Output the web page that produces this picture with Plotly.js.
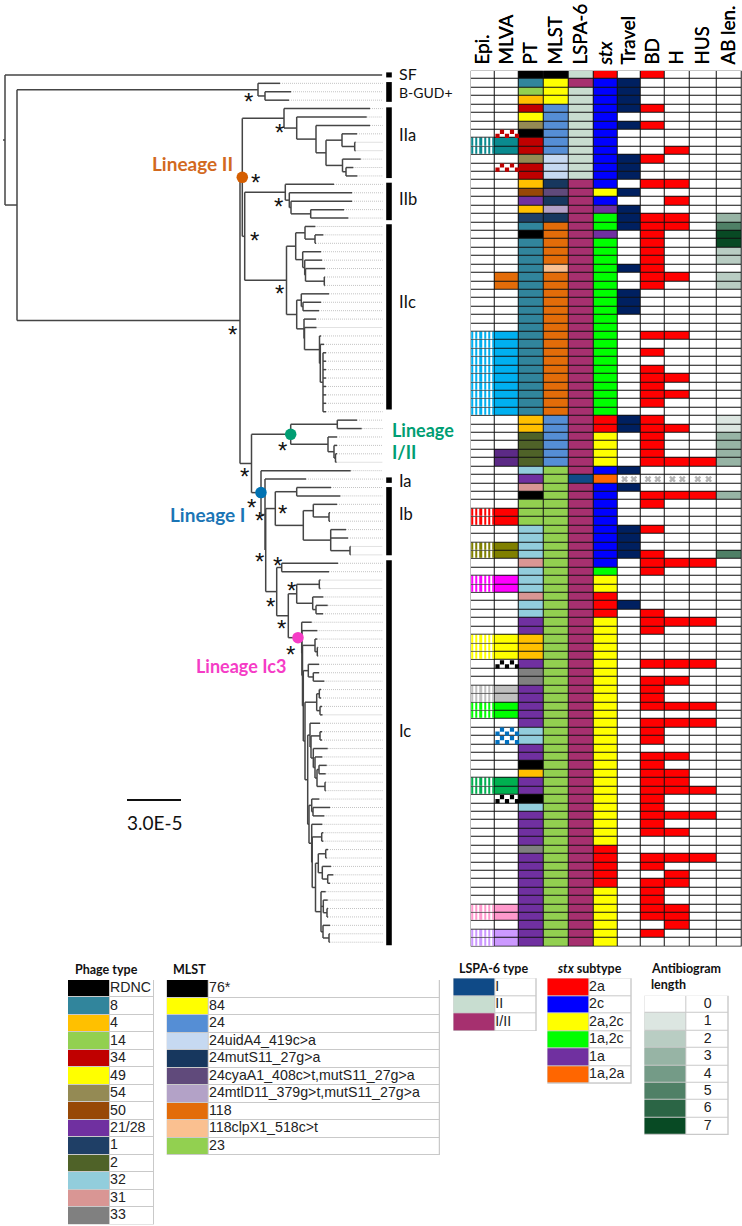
<!DOCTYPE html>
<html><head><meta charset="utf-8">
<script src="https://cdn.plot.ly/plotly-3.0.1.min.js"></script>
<style>html,body{margin:0;padding:0;background:#fff}#c{width:742px;height:1226px}</style>
</head><body><div id="c"></div>
<script>
// ---------- DATA ----------
const columns=['Epi.','MLVA','PT','MLST','LSPA-6','<i>stx</i>','Travel','BD','H','HUS','AB len.'];
const phageTypes=['RDNC','8','4','14','34','49','54','50','21/28','1','2','32','31','33'];
const phageColors=['#000000','#31859c','#ffc000','#92d050','#c00000','#ffff00','#948a54','#974806','#7030a0','#1f3f66','#4f6228','#92cddc','#d99694','#808080'];
const mlstTypes=['76*','84','24','24uidA4_419c>a','24mutS11_27g>a','24cyaA1_408c>t,mutS11_27g>a','24mtlD11_379g>t,mutS11_27g>a','118','118clpX1_518c>t','23'];
const mlstColors=['#000000','#ffff00','#558ed5','#c6d9f1','#17375e','#604a7b','#b3a2c7','#e36c09','#fac090','#92d050'];
const lspaTypes=['I','II','I/II'];
const lspaColors=['#0f4a87','#c8ddd0','#a6306f'];
const stxTypes=['2a','2c','2a,2c','1a,2c','1a','1a,2a'];
const stxColors=['#ff0000','#0000ff','#ffff00','#00ff00','#7030a0','#ff6600'];
const abLevels=['0','1','2','3','4','5','6','7'];
const abColors=['#ffffff','#dce6e1','#b9cdc3','#97b4a5','#749b87','#4f8066','#2b6545','#084a24'];

const ptByRow=['RDNC','8','14','4','34','49','54','RDNC','34','34','54','34','34','4','50','21/28','4','1','8','RDNC',
'8','8','8','8','8','8','8','8','8','8','8','8','8','8','8','8','8','8','8','8','8',
'4','4','2','2','2','2','32','21/28','31','RDNC','14','14','14','32','32','32','32','31','32','32','32','31','32','32',
'21/28','21/28','4','4','4','21/28','33','33','21/28','21/28','21/28','21/28','21/28','32','32','21/28','21/28','RDNC','4','21/28','21/28','RDNC','32',
'21/28','21/28','21/28','21/28','33','21/28','21/28','21/28','21/28','21/28','21/28','21/28','21/28','21/28','21/28','21/28'];
const mlstByRow=['76*','84','84','84','24','24','24','24','24','24','24uidA4_419c>a','24uidA4_419c>a','24uidA4_419c>a','24mutS11_27g>a','24cyaA1_408c>t,mutS11_27g>a','24mutS11_27g>a','24mtlD11_379g>t,mutS11_27g>a','24mutS11_27g>a',
'118','118','118','118','118','118clpX1_518c>t','118','118','118','118','118','118','118','118','118','118','118','118','118','118','118','118','118',
'24','24','24','24','24','24',
'23','23','23','23','23','23','23','23','23','23','23','23','23','23','23','23','23','23','23','23','23','23','23','23','23','23','23','23','23','23',
'23','23','23','23','23','23','23','23','23','23','23','23','23','23','23','23','23','23','23','23','23','23','23','23','23','23','23'];
const lspaByRow=['II','I/II','II','II','II','II','II','II','II','II','II','II','II',
'I/II','I/II','I/II','I/II','I/II','I/II','I/II','I/II','I/II','I/II','I/II','I/II','I/II','I/II','I/II','I/II','I/II','I/II','I/II','I/II','I/II','I/II','I/II','I/II','I/II','I/II','I/II','I/II','I/II','I/II','I/II','I/II','I/II','I/II','I/II',
'I',
'I/II','I/II','I/II','I/II','I/II','I/II','I/II','I/II','I/II','I/II','I/II','I/II','I/II','I/II','I/II','I/II','I/II','I/II','I/II','I/II','I/II','I/II','I/II','I/II','I/II','I/II','I/II','I/II',
'I/II','I/II','I/II','I/II','I/II','I/II','I/II','I/II','I/II','I/II','I/II','I/II','I/II','I/II','I/II','I/II','I/II','I/II','I/II','I/II','I/II','I/II','I/II','I/II','I/II','I/II','I/II','I/II','I/II'];
const stxByRow=['2a','2c','2c','2c','2c','2c','2c','2c','2c','2c','2c','2c','2c','2c','2a,2c','2c','1a','1a,2c','1a,2c','1a',
'1a,2c','1a,2c','1a,2c','1a,2c','1a,2c','1a,2c','1a,2c','1a,2c','1a,2c','1a,2c','1a,2c','1a,2c','1a,2c','1a,2c','1a,2c','1a,2c','1a,2c','1a,2c','1a,2c','1a,2c','1a,2c',
'2a','2a','2a,2c','2a,2c','2a,2c','2a,2c','2c','1a,2a','2c','2c','2c','2c','2c','2c','2c','2c','2c','2c','1a,2c','2a,2c','2a,2c','2a','2a','2a',
'2a,2c','2a,2c','2a,2c','2a,2c','2a,2c','2a,2c','2a,2c','2a,2c','2a,2c','2a,2c','2a,2c','2a,2c','2a,2c','2a,2c','2a,2c','2a,2c','2a,2c','2a,2c','2a,2c','2a,2c','2a,2c','2a,2c','2a,2c','2a,2c','2a,2c','2a,2c','2a,2c',
'2a','2a','2a','2a','2a','2a,2c','2a,2c','2a,2c','2a,2c','2a,2c','2a,2c','2a,2c'];
const travelRows=[1,2,3,4,6,10,11,12,14,16,17,18,23,26,27,28,41,42,47,49,54,55,56,57,63];
const bdRows=[0,4,6,10,13,17,18,19,20,21,22,23,24,25,31,33,35,36,37,38,39,41,42,43,44,45,46,50,51,54,57,58,59,64,65,66,70,72,73,74,75,77,78,79,81,82,83,84,85,86,87,88,89,90,93,94,96,97,98,99,100,102];
const hRows=[9,13,15,17,18,24,31,36,38,42,46,50,58,65,70,72,75,77,81,83,84,85,88,90,93,95,96,99,100,101];
const husRows=[46,50,58,65,70,75,77,85,88,93];
const unknownRow=48;
const abRows=[17,18,19,20,21,22,24,25,41,42,43,44,45,46,50,57];
const abValues=[3,5,7,7,2,2,2,2,1,1,3,3,3,3,3,5];
const travelColor='#002060', symptomColor='#ff0000';
// outbreak clusters (Epi. stripes + MLVA fill)
const stripeClusters=[
 {rows:[8,9],color:'#0a8a8f',epi:true},{rows:[24,25],color:'#e36c09',epi:false},
 {rows:[31,32,33,34,35,36,37,38,39,40],color:'#00b0f0',epi:true},{rows:[45,46],color:'#5c2a86',epi:false},
 {rows:[52,53],color:'#ff0000',epi:true},{rows:[56,57],color:'#808000',epi:true},{rows:[60,61],color:'#ff00ff',epi:true},
 {rows:[67,68,69],color:'#ffff00',epi:true},{rows:[73,74],color:'#bfbfbf',epi:true},{rows:[75,76],color:'#00ff00',epi:true},
 {rows:[84,85],color:'#00b050',epi:true},{rows:[99,100],color:'#ff99cc',epi:true},{rows:[102,103],color:'#cc99ff',epi:true}];
const checkerClusters=[{rows:[7,11],color:'#c00000'},{rows:[70,86],color:'#000000'},{rows:[78,79],color:'#0070c0'}];

// tree: [node divergence, ...children, optional lineage tag]; a bare number is a leaf tip
const IIa=[284,370,[296.7,366.7,[316,370,[326,[342,357,[354.7,355.5,355.5]],[342.5,360.7,[346,353.3,357.3]]]]]];
const IIb=[285.3,334,[289.3,352,[291,352,[310.7,344,348.3]]]];
const IIc=[286.5,
 [295.7,[305,315.3,[315,323.3,316]],[302.7,321,[304.7,322,[305.5,325,[324.3,325,325]]]]],
 [296.7,[301.3,329,[303,321,319]],[304,316,[304.5,316.5,[319.5,321,[320.3,324,[323,326,326,326,326,326,326,326,326]]]]]]];
const lineageII=[242.3,IIa,[244.7,IIb,IIc],'Lineage II'];
const lineageI_II=[290.7,[337.3,357,361.7],[328,337,[334,337,[335.5,337,336.5]]],'Lineage I/II'];
const Ib=[275.3,[296.7,331,340.3],[303.3,[313.3,337,[329,330,330]],[330.7,346,348,[350,350.5,350.5]]]];
const Ic70=[308.3,319,[313.3,319,324.3]];
const Ic73=[316.7,[319.3,321,321],[320,322,322.5]];
const Ic77=[310,320,[311,[320,322,322],[313.3,327.7,[315,322.3,[317,[319,326.7,325.7],[325,325.7,325.7]]]]]];
const Ic86=[311.7,319.3,[313,330,324.3]];
const Ic92=[318.3,[325.7,328,326.7],[322.3,331,[327.7,333.3,330]]];
const Ic97=[321,325.7,[323.3,327.7,[327,328,328]],[323,330,[329,329.7,329.7]]];
const spine=[303.3,Ic70,[305,Ic73,[307.7,Ic77,[309,Ic86,[311.7,322.3,[312.2,[321.7,323.3,323.3],[315.5,Ic92,Ic97]]]]]]];
const Ic3=[298,[301.7,311.7,[301.9,317.3,[302.5,[315,317.3,[317.3,318,318]],spine]]],'Lineage Ic3'];
const lineageI=[261,350.7,[265,306,[265.7,Ib,[276.7,[281.7,338,329],[288.3,[296.7,[319.3,320.5,320.5],[312.7,323.3,[316,327.7,323]]],Ic3]]]],'Lineage I'];
const tree=[5,382,[17,[258,280,[265,291,289]],[240,lineageII,[251.5,lineageI_II,lineageI]]]];

const cladeNames=['SF','B-GUD+','IIa','IIb','IIc','Ia','Ib','Ic'];
const cladeFrom=[-0.3,0.85,3.85,12.8,17.75,47.8,48.95,57.65];
const cladeTo=[0.3,3.2,12.25,17.25,39.75,48.45,57.05,103.35];
const lineageColors={'Lineage II':'#d55e00','Lineage I/II':'#009e73','Lineage I':'#0072b2','Lineage Ic3':'#f53cc6'};

// ---------- LAYOUT CONSTANTS ----------
const W=742,H=1226,rowsN=104;
const tableTop=70.7,tableBot=946.4,RH=(tableBot-tableTop)/rowsN;
const colEdges=[470.7,495,519,543.3,568.3,593.3,617.7,640.7,665,689.7,716.7,741.7];
const dotEnd=382.7;
const rowOf=py=>(py-tableTop)/RH-0.5;

// palette
const palette=['#ffffff'];
const code=c=>{let i=palette.indexOf(c);if(i<0){palette.push(c);i=palette.length-1;}return i;};
const lookup=(types,cols)=>t=>code(cols[types.indexOf(t)]);
const pt=lookup(phageTypes,phageColors),ml=lookup(mlstTypes,mlstColors),ls=lookup(lspaTypes,lspaColors),st=lookup(stxTypes,stxColors);

// table z
const z=[];
for(let r=0;r<rowsN;r++){
 z.push([0,0,pt(ptByRow[r]),ml(mlstByRow[r]),ls(lspaByRow[r]),st(stxByRow[r]),
  travelRows.includes(r)?code(travelColor):0,bdRows.includes(r)?code(symptomColor):0,
  hRows.includes(r)?code(symptomColor):0,husRows.includes(r)?code(symptomColor):0,
  abRows.includes(r)?code(abColors[abValues[abRows.indexOf(r)]]):0]);
}
stripeClusters.forEach(c=>c.rows.forEach(r=>{z[r][1]=code(c.color);}));
// stripes
const nStripe=11,stripeEdges=[];
for(let i=0;i<=nStripe;i++)stripeEdges.push(colEdges[0]+0.5+(colEdges[1]-colEdges[0]-1)*i/nStripe);
const zStripe=[];
for(let r=0;r<rowsN;r++)zStripe.push(new Array(nStripe).fill(null));
stripeClusters.filter(c=>c.epi).forEach(c=>c.rows.forEach(r=>{
 for(let i=0;i<nStripe;i++)zStripe[r][i]=i%2==0?code(c.color):0;}));
// colour legends
const legends=[];
function legend(px0,pxs,px1,py0,py1,labels,colors,center){legends.push({px0,pxs,px1,py0,py1,labels,colors,center,z:colors.map(c=>[code(c),0])});}
legend(68,110,154,980,1224.5,phageTypes,phageColors);
legend(166.7,209,440,980,1155,mlstTypes,mlstColors);
legend(453.3,495.3,536.7,978.3,1031,lspaTypes,lspaColors);
legend(547.3,589,631.7,978.3,1083.7,stxTypes,stxColors);
legend(644.3,686.7,728.7,995.7,1135,abLevels,abColors,true);

const cs=palette.map((c,i)=>[i/(palette.length-1),c]);
const zr={zmin:0,zmax:palette.length-1,colorscale:cs,showscale:false,hoverinfo:'skip',zsmooth:false};

// tree walk
const solidX=[],solidY=[],dotX=[],dotY=[],nodeDots=[];
let nextRow=0;
function seg(a,x0,y0,x1,y1,b){a.push(x0,x1,null);b.push(y0,y1,null);}
function walk(n,px){
 if(typeof n==='number'){const r=nextRow++;seg(solidX,px,r,n,r,solidY);if(n<dotEnd)seg(dotX,n,r,dotEnd,r,dotY);return r;}
 const x=n[0],kids=n.slice(1).filter(k=>typeof k!=='string'),tag=n.slice(1).find(k=>typeof k==='string');
 const ys=kids.map(k=>walk(k,x));
 const y=(ys[0]+ys[ys.length-1])/2;
 seg(solidX,x,ys[0],x,ys[ys.length-1],solidY);
 seg(solidX,px,y,x,y,solidY);
 if(tag)nodeDots.push({x,y,c:lineageColors[tag]});
 return y;
}
walk(tree,3);

const barX=[],barY=[];
cladeNames.forEach((n,i)=>{seg(barX,389,cladeFrom[i],389,cladeTo[i],barY);});

const traces=[
 {type:'scatter',mode:'lines',x:dotX,y:dotY,line:{color:'#c4c4c4',width:1,dash:'1px,1px'},hoverinfo:'skip'},
 {type:'scatter',mode:'lines',x:solidX,y:solidY,line:{color:'#454545',width:1.5},hoverinfo:'skip'},
 {type:'scatter',mode:'lines',x:barX,y:barY,line:{color:'#000',width:5.6},hoverinfo:'skip'},
 {type:'scatter',mode:'markers',x:nodeDots.map(d=>d.x),y:nodeDots.map(d=>d.y),marker:{size:11.5,color:nodeDots.map(d=>d.c)},hoverinfo:'skip'},
 {type:'scatter',mode:'lines',x:[127,181],y:[rowOf(800),rowOf(800)],line:{color:'#111',width:2},hoverinfo:'skip'},
 Object.assign({type:'heatmap',x:colEdges,y:z.map((_,i)=>i),z:z,xgap:1,ygap:1,xaxis:'x2',yaxis:'y2'},zr),
 Object.assign({type:'heatmap',x:stripeEdges,y:z.map((_,i)=>i),z:zStripe,xgap:0,ygap:1,xaxis:'x2',yaxis:'y2'},zr)
];
// checker marks
const chkX=[],chkY=[],chkC=[];
checkerClusters.forEach(c=>c.rows.forEach(r=>{
 const l=colEdges[1];
 [7,17].forEach(d=>{chkX.push(l+d);chkY.push(r-0.24);chkC.push(c.color);});
 [2.5,12,22].forEach(d=>{chkX.push(l+d);chkY.push(r+0.24);chkC.push(c.color);});
}));
traces.push({type:'scatter',mode:'markers',x:chkX,y:chkY,xaxis:'x2',yaxis:'y2',marker:{symbol:'square',size:4.2,color:chkC,line:{width:0}},hoverinfo:'skip'});
// unknown marks
const unkX=[],unkY=[];
[6,7,8,9].forEach(c=>{[0.3,0.7].forEach(f=>{unkX.push(colEdges[c]+(colEdges[c+1]-colEdges[c])*f);unkY.push(unknownRow);});});
traces.push({type:'scatter',mode:'markers',x:unkX,y:unkY,xaxis:'x2',yaxis:'y2',marker:{symbol:'x',size:6,color:'#b5b5b5',line:{width:0}},hoverinfo:'skip'});

const layout={width:W,height:H,margin:{l:0,r:0,t:0,b:0},showlegend:false,paper_bgcolor:'#fff',plot_bgcolor:'rgba(0,0,0,0)',
 xaxis:{domain:[0,1],range:[0,W],visible:false,fixedrange:true},
 yaxis:{domain:[0,1],range:[(H-tableTop)/RH-0.5,-tableTop/RH-0.5],visible:false,fixedrange:true},
 xaxis2:{domain:[colEdges[0]/W,colEdges[11]/W],range:[colEdges[0],colEdges[11]],anchor:'y2',side:'top',tickmode:'array',
   tickvals:columns.map((_,i)=>(colEdges[i]+colEdges[i+1])/2),ticktext:columns,tickangle:-90,ticks:'',showgrid:false,zeroline:false,showline:false,
   ticklabelstandoff:5,tickfont:{family:'Lato',size:18.8,color:'#000',shadow:'0.4px 0 0 #000'},fixedrange:true},
 yaxis2:{domain:[1-tableBot/H,1-tableTop/H],range:[rowsN-0.5,-0.5],anchor:'x2',visible:false,fixedrange:true},
 shapes:[{type:'rect',layer:'below',xref:'x2 domain',yref:'y2 domain',x0:0,x1:1,y0:0,y1:1,fillcolor:'#111',line:{width:0}}],
 annotations:[]};
const ann=(t,x,y,o)=>layout.annotations.push(Object.assign({text:t,x:x/W,y:1-y/H,xref:'paper',yref:'paper',showarrow:false,xanchor:'left',yanchor:'middle',borderpad:0,font:{family:'Lato',size:17,color:'#111'}},o||{}));

const cladeLabelY=[73.5,92,135,199,302,481,514,731];
const cladeLabelSize=[16,14,16.5,16.5,16.5,16.5,16.5,16.5];
cladeNames.forEach((n,i)=>ann(n,398.5,cladeLabelY[i],{font:{family:'Lato',size:cladeLabelSize[i],color:'#111'}}));
const bold=c=>({font:{family:'Lato',size:18,color:c}});
ann('<b>Lineage II</b>',151,163,{font:{family:'Lato',size:19,color:'#d2691e'}});
ann('<b>Lineage</b>',391,430,bold(lineageColors['Lineage I/II']));
ann('<b>I/II</b>',391,452,bold(lineageColors['Lineage I/II']));
ann('<b>Lineage I</b>',169,515,{font:{family:'Lato',size:19,color:'#1b75b5'}});
ann('<b>Lineage Ic3</b>',195,666,bold(lineageColors['Lineage Ic3']));
ann('3.0E-5',126,822,{font:{family:'Lato',size:19,color:'#111'}});

const stars=[[248,97],[279,128],[255,178],[278,202],[254,236],[279,290],[233,331],[282,446],[244,473],[252,504],[282,509],[259,516],[259,557],[277,561],[291,587],[270,602],[281,624],[290,650]];
stars.forEach(s=>ann('*',s[0],s[1]+4,{xanchor:'center',font:{family:'Liberation Sans',size:24,color:'#111'}}));

const t=(s,x,y)=>ann('<b>'+s+'</b>',x,y,{font:{family:'Lato',size:12.5,color:'#111'}});
t('Phage type',74,969);t('MLST',172,969);t('LSPA-6 type',458,968);t('<i>stx</i> subtype',556,968);
t('Antibiogram',650,968);t('length',650,984);

legends.forEach((g,i)=>{
 const n=i+3,xk='xaxis'+n,yk='yaxis'+n,xa='x'+n,ya='y'+n;
 layout[xk]={domain:[g.px0/W,g.px1/W],range:[g.px0,g.px1],anchor:ya,visible:false,fixedrange:true};
 layout[yk]={domain:[1-g.py1/H,1-g.py0/H],range:[g.labels.length-0.5,-0.5],anchor:xa,visible:false,fixedrange:true};
 layout.shapes.push({type:'rect',layer:'below',xref:xa+' domain',yref:ya+' domain',x0:0,x1:1,y0:0,y1:1,fillcolor:'#c9c9c9',line:{width:0}});
 traces.push(Object.assign({type:'heatmap',x:[g.px0,g.pxs,g.px1],y:g.labels.map((_,k)=>k),z:g.z,xgap:1,ygap:1,xaxis:xa,yaxis:ya},zr));
 traces.push({type:'scatter',mode:'text',x:g.labels.map(()=>g.center?(g.pxs+g.px1)/2:g.pxs),y:g.labels.map((_,k)=>k),text:g.labels,
  textposition:g.center?'middle center':'middle right',textfont:{family:'Liberation Sans',size:14.2,color:'#222'},xaxis:xa,yaxis:ya,hoverinfo:'skip',cliponaxis:false});
});
Plotly.newPlot('c',traces,layout,{staticPlot:true,displayModeBar:false});
</script></body></html>
